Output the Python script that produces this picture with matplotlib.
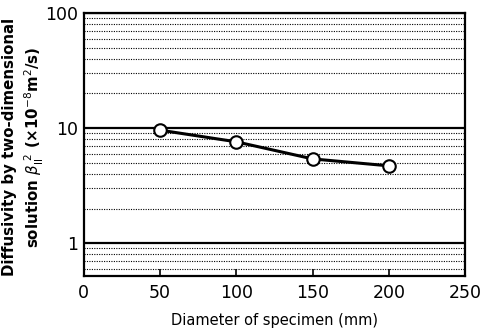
import matplotlib.pyplot as plt
from matplotlib.ticker import FixedLocator, NullFormatter

diameter = [50, 100, 150, 200]
diffusivity = [9.6, 7.6, 5.4, 4.7]

x_ticks = [0, 50, 100, 150, 200, 250]
y_ticks = [1, 10, 100]
y_minor = [m * d for d in [0.1, 1, 10] for m in range(2, 10)]

fig = plt.figure(figsize=(4.96, 3.34), dpi=100)
ax = fig.add_axes([0.169, 0.174, 0.769, 0.787])

ax.set_yscale('log')
ax.set_xlim(0, 250)
ax.set_ylim(0.52, 100)

# grid: solid at decades, dotted in between
for y in y_ticks:
    ax.axhline(y, color='black', lw=1.6, zorder=1)
for y in y_minor:
    if y > 0.52:
        ax.axhline(y, color='black', lw=0.8, ls=(0, (1, 1.2)), zorder=1)

ax.plot(diameter, diffusivity, color='black', lw=2.2, marker='o', ms=9,
        markerfacecolor='white', markeredgecolor='black', markeredgewidth=1.5, zorder=3)

ax.set_xticks(x_ticks)
ax.set_xticklabels([str(v) for v in x_ticks], fontsize=12.5)
ax.set_yticks(y_ticks)
ax.set_yticklabels([str(v) for v in y_ticks], fontsize=12.5)
ax.yaxis.set_minor_locator(FixedLocator(y_minor))
ax.yaxis.set_minor_formatter(NullFormatter())
ax.tick_params(axis='y', which='both', length=0, pad=4)
ax.tick_params(axis='x', direction='in', length=5, width=1.2, pad=6)

for s in ax.spines.values():
    s.set_linewidth(1.6)

ax.set_xlabel("Diameter of specimen (mm)", fontsize=10.5, labelpad=8)
ax.set_ylabel("Diffusivity by two-dimensional\n"
              r"solution $\beta_{\rm II}^{\ 2}$ (×10$^{-8}$m$^2$/s)",
              fontsize=10.8, fontweight='bold', linespacing=1.3)
ax.yaxis.set_label_coords(-0.1, 0.49)

plt.savefig("out.png", dpi=100)
plt.close()
